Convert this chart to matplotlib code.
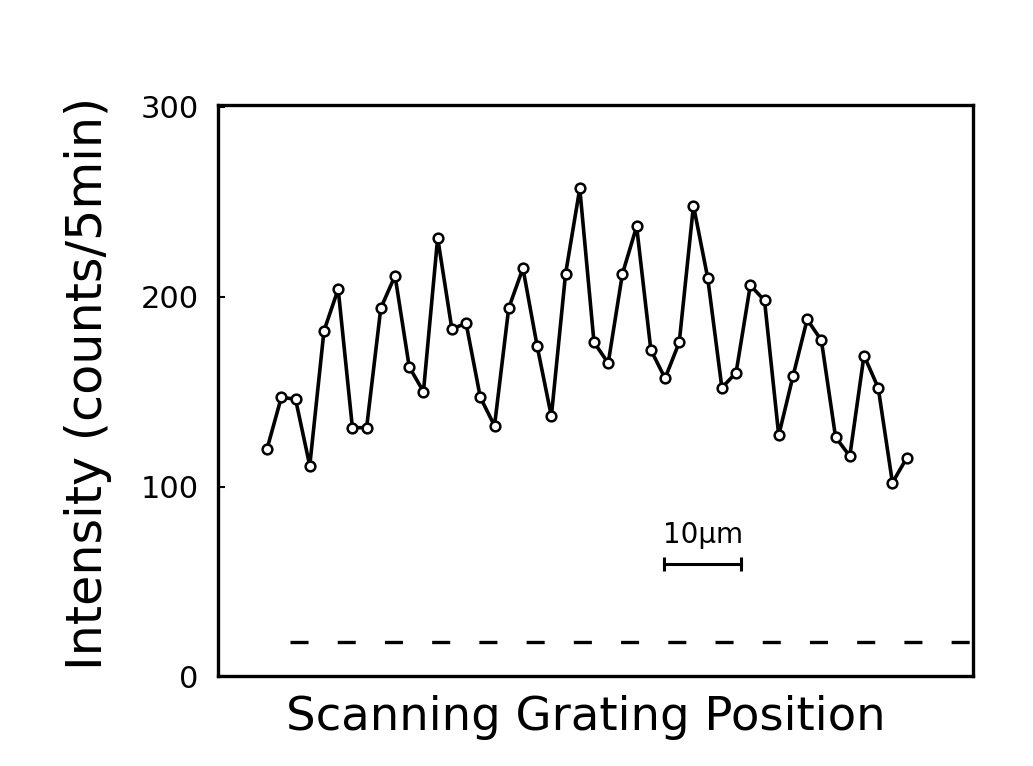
import numpy as np
import matplotlib
matplotlib.use("Agg")
import matplotlib.pyplot as plt

plt.rcParams["lines.scale_dashes"] = False

# Measured intensity at successive grating positions (counts per 5 min)
counts = [120, 147, 146, 111, 182, 204, 131, 131, 194, 211,
          163, 150, 231, 183, 186, 147, 132, 194, 215, 174,
          137, 212, 257, 176, 165, 212, 237, 172, 157, 176,
          248, 210, 152, 160, 206, 198, 127, 158, 188, 177,
          126, 116, 169, 152, 102, 115]
step_um = 1.85                      # grating step between readings (µm)
background = 18                     # background level (counts / 5 min)
y_ticks = [0, 100, 200, 300]
y_ticklabels = ["0", "100", "200", "300"]
scale_bar_um = 10

x = np.arange(len(counts)) * step_um

fig = plt.figure(figsize=(10.33, 7.66), dpi=100, facecolor="white")
ax = fig.add_axes([0.211, 0.117, 0.731, 0.746])

ax.plot(x, counts, color="black", lw=2.6, marker="o", ms=7,
        mfc="white", mec="black", mew=1.8, zorder=3)

# background level
ax.plot([3.0, 91.9], [background, background], color="black", lw=2.4,
        linestyle=(0, (13, 21)))

# 10 µm scale bar
bx0 = 51.7
ax.plot([bx0, bx0 + scale_bar_um], [59, 59], color="black", lw=2.2,
        marker="|", ms=10, mew=2.2)
ax.text(bx0 + scale_bar_um / 2, 67, "10µm", ha="center", va="bottom",
        fontsize=20)

ax.set_xlim(-6.4, 91.9)
ax.set_ylim(0, 301)
ax.set_xticks([])
ax.set_yticks(y_ticks)
ax.set_yticklabels(y_ticklabels, fontsize=22)
ax.tick_params(axis="y", direction="in", length=5, width=1.5, pad=14)
for s in ax.spines.values():
    s.set_linewidth(2.4)

ax.set_ylabel("Intensity (counts/5min)", fontsize=35.5)
ax.yaxis.set_label_coords(-0.14, 0.513, transform=ax.transAxes)
ax.set_xlabel("Scanning Grating Position", fontsize=33.5)
ax.xaxis.set_label_coords(0.487, -0.033, transform=ax.transAxes)
ax.xaxis.label.set_va("top")

fig.savefig("out.png", dpi=100, facecolor=fig.get_facecolor())
